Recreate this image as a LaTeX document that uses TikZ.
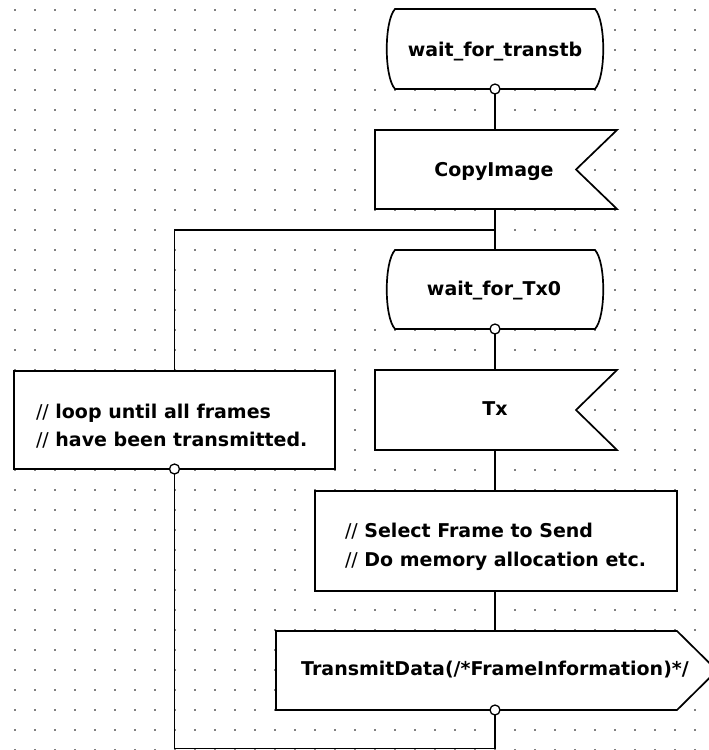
\documentclass[tikz,border=0pt]{standalone}
\usepackage{fontspec}
\setmainfont{DejaVu Sans}
\usetikzlibrary{calc}
\definecolor{griddot}{HTML}{808080}
\begin{document}
\begin{tikzpicture}[x=1pt,y=-1pt,
  every node/.style={inner sep=0pt,outer sep=0pt},
  lbl/.style={font=\fontsize{19}{28}\selectfont\bfseries,anchor=base},
  cmt/.style={font=\fontsize{19}{28}\selectfont\bfseries,anchor=base west},
  body/.style={minimum width=#1},
  symline/.style={line width=1.7pt,line join=miter},
  flow/.style={line width=1.7pt},
  conn/.style={circle,draw,fill=white,line width=1.3pt,minimum size=10pt}]

\useasboundingbox (0,0) rectangle (709,750);
\clip (0,0) rectangle (709,750);
\fill[white] (0,0) rectangle (709,750);

% dotted drawing grid
\foreach \i in {0,...,34}
  \foreach \j in {0,...,37}
    \fill[griddot] ({15+20*\i-0.8},{10+20*\j-0.8}) rectangle ++(1.6,1.6);

% cleared areas round the state symbols
\fill[white] (370,4) rectangle (606,85);
\fill[white] (370,245) rectangle (606,325);

% symbol bodies (positions only)
\node[body=216pt,minimum height=80pt] (w1) at (495,49) {};
\node[body=242pt,minimum height=79pt] (cp) at (496,169.5) {};
\node[body=216pt,minimum height=79pt] (w2) at (495,289.5) {};
\node[body=242pt,minimum height=80pt] (tx) at (496,410) {};
\node[body=321pt,minimum height=98pt] (cm) at (174.5,420) {};
\node[body=362pt,minimum height=100pt] (sel) at (496,541) {};
\node[body=401pt,minimum height=79pt] (td) at (476.5,670.5) {};

% state symbols with bracket-like sides
\foreach \n in {w1,w2}
  \filldraw[symline,fill=white]
    ($(\n.north west)+(8,0)$) -- ($(\n.north east)+(-8,0)$)
    .. controls ($(\n.north east)+(3,12)$) and ($(\n.south east)+(3,-12)$) .. ($(\n.south east)+(-8,0)$)
    -- ($(\n.south west)+(8,0)$)
    .. controls ($(\n.south west)+(-3,-12)$) and ($(\n.north west)+(-3,12)$) .. cycle;

% input symbols with a notch on the right
\foreach \n in {cp,tx}
  \filldraw[symline,fill=white]
    (\n.north west) -- (\n.north east) -- ($(\n.east)+(-41,0)$)
    -- (\n.south east) -- (\n.south west) -- cycle;

% task / comment boxes
\filldraw[symline,fill=white] (cm.north west) rectangle (cm.south east);
\filldraw[symline,fill=white] (sel.north west) rectangle (sel.south east);

% output symbol pointing right
\filldraw[symline,fill=white]
  (td.north west) -- (td.north east) -- ($(td.east)+(40,0)$)
  -- (td.south east) -- (td.south west) -- cycle;

% texts
\node[lbl] (w1t) at (495,56) {wait\_for\_transtb};
\node[lbl] (cpt) at (494,176) {CopyImage};
\node[lbl] (w2t) at (494,295) {wait\_for\_Tx0};
\node[lbl] (txt) at (495,415) {Tx};
\node[cmt] (cm1) at (36,418) {{\mdseries//} loop until all frames};
\node[cmt] (cm2) at (36,446) {{\mdseries//} have been transmitted.};
\node[cmt] (sel1) at (345,537) {{\mdseries//} Select Frame to Send};
\node[cmt] (sel2) at (345,566) {{\mdseries//} Do memory allocation etc.};
\node[lbl] (tdt) at (495,675) {TransmitData(/*FrameInformation)*/};

% flow lines
\coordinate (br) at (495,230);
\coordinate (lb) at (495,748.5);
\draw[flow] (w1.south) -- (w1.south |- cp.north);
\draw[flow] (cp.south -| br) -- (w2.north -| br);
\draw[flow] (br) -| (cm.north);
\draw[flow] (w2.south) -- (w2.south |- tx.north);
\draw[flow] (tx.south -| br) -- (sel.north -| br);
\draw[flow] (sel.south -| br) -- (td.north -| br);
\draw[flow] (td.south -| br) -- (lb) -| (cm.south);

% connection points
\node[conn] (c1) at (w1.south) {};
\node[conn] (c2) at (w2.south) {};
\node[conn] (c3) at (cm.south) {};
\node[conn] (c4) at (td.south -| br) {};
\end{tikzpicture}
\end{document}
